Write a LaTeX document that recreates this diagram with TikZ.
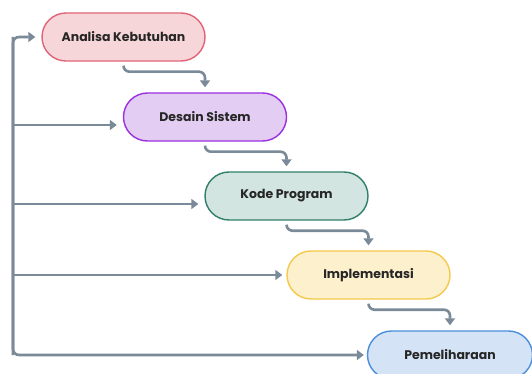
\documentclass[tikz,border=0pt]{standalone}
\usepackage{fontspec}
\setmainfont{Poppins}
\usetikzlibrary{arrows.meta}
\definecolor{slate}{HTML}{7B8A98}
\definecolor{fA}{HTML}{F7D6DA}\definecolor{dA}{HTML}{E06478}
\definecolor{fB}{HTML}{E3CDF2}\definecolor{dB}{HTML}{9B30E0}
\definecolor{fC}{HTML}{D3E5E0}\definecolor{dC}{HTML}{2F7F6A}
\definecolor{fD}{HTML}{FDF0CC}\definecolor{dD}{HTML}{F5C94A}
\definecolor{fE}{HTML}{D4E4F6}\definecolor{dE}{HTML}{4A8FDB}
\tikzset{
  stage/.style={draw, line width=1.4pt, rounded corners=24pt, minimum width=163pt, minimum height=48pt, inner sep=0pt, font=\bfseries\fontsize{12.5}{14}\selectfont, text=black!85},
  conn/.style={draw=slate, line width=2.6pt, rounded corners=6pt, -{Triangle[width=10pt,length=7pt]}},
}
\begin{document}
\begin{tikzpicture}[x=1pt,y=-1pt]
\clip (0,0) rectangle (532,374);
\fill[white] (0,0) rectangle (532,374);
\node[stage, fill=fA, draw=dA] (n1) at (123.5,37) {Analisa Kebutuhan};
\node[stage, fill=fB, draw=dB] (n2) at (205,117) {Desain Sistem};
\node[stage, fill=fC, draw=dC] (n3) at (286.5,196) {Kode Program};
\node[stage, fill=fD, draw=dD] (n4) at (368.5,275) {Implementasi};
\node[stage, fill=fE, draw=dE, minimum width=165pt] (n5) at (450,355) {Pemeliharaan};
% step connectors
\draw[conn] ([yshift=-4pt]n1.south) -- ++(0,6) -| ([yshift=5pt]n2.north);
\draw[conn] ([yshift=-4pt]n2.south) -- ++(0,6) -| ([yshift=5pt]n3.north);
\draw[conn] ([yshift=-4pt]n3.south) -- ++(0,6) -| ([yshift=5pt]n4.north);
\draw[conn] ([yshift=-4pt]n4.south) -- ++(0,6) -| ([yshift=5pt]n5.north);
% feedback bus
\coordinate (bt) at (13,37);
\coordinate (bb) at (13,355);
\draw[conn] (bb) -- (bt) -- ([xshift=-6pt]n1.west);
\draw[conn] (bt) |- ([xshift=-3pt]n5.west);
\draw[conn, rounded corners=0pt, shorten >=6pt] (13,125) -- (n2.west |- 0,125);
\draw[conn, rounded corners=0pt, shorten >=6pt] (13,204) -- (n3.west |- 0,204);
\draw[conn, rounded corners=0pt, shorten >=4pt] (13,275) -- (n4.west |- 0,275);
\end{tikzpicture}
\end{document}
